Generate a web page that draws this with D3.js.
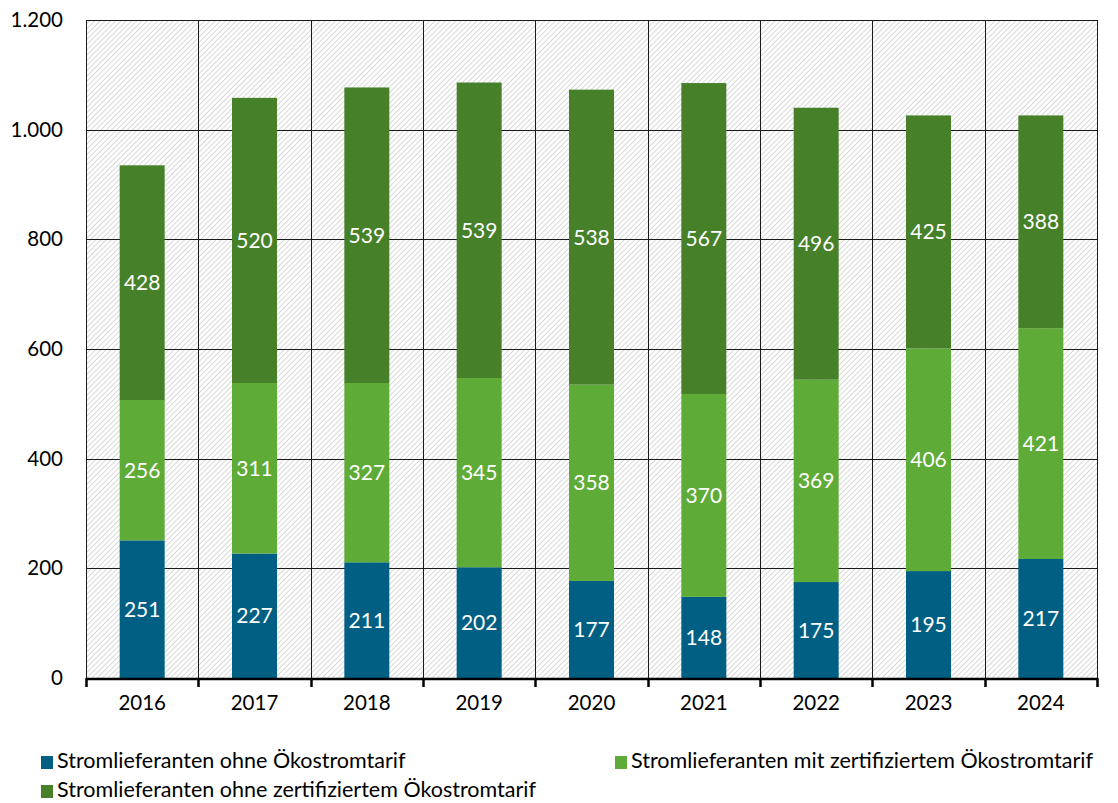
<!DOCTYPE html>
<html>
<head>
<meta charset="utf-8">
<script src="https://cdn.jsdelivr.net/npm/d3@7"></script>
<style>
  html, body { margin: 0; padding: 0; background: #fff; }
  svg text { font-family: Lato, "Open Sans", sans-serif; }
</style>
</head>
<body>
<svg id="chart" width="1118" height="803"></svg>
<script>
// Anzahl der Stromlieferanten nach Tarifart, 2016–2024
const years = ["2016", "2017", "2018", "2019", "2020", "2021", "2022", "2023", "2024"];
const ohneOeko = [251, 227, 211, 202, 177, 148, 175, 195, 217];
const mitZertOeko = [256, 311, 327, 345, 358, 370, 369, 406, 421];
const ohneZertOeko = [428, 520, 539, 539, 538, 567, 496, 425, 388];
const seriesNames = [
  "Stromlieferanten ohne Ökostromtarif",
  "Stromlieferanten mit zertifiziertem Ökostromtarif",
  "Stromlieferanten ohne zertifiziertem Ökostromtarif"
];
const yTicks = [0, 200, 400, 600, 800, 1000, 1200];

const colors = ["#005f83", "#5fab37", "#46812a"];
const keys = ["a", "b", "c"];

const rows = years.map((y, i) => ({ year: y, a: ohneOeko[i], b: mitZertOeko[i], c: ohneZertOeko[i] }));
const stacked = d3.stack().keys(keys)(rows);

const svg = d3.select("#chart");
const m = { left: 86, right: 1097, top: 20, bottom: 678 };

const x = d3.scaleBand().domain(years).range([m.left, m.right]).paddingInner(0).paddingOuter(0);
const y = d3.scaleLinear().domain([0, 1200]).range([m.bottom, m.top]);
const barW = 45;

// Schraffierter Hintergrund der Zeichenfläche
const defs = svg.append("defs");
const pat = defs.append("pattern")
  .attr("id", "hatch").attr("patternUnits", "userSpaceOnUse")
  .attr("width", 3.7).attr("height", 3.7)
  .attr("patternTransform", "rotate(45)");
pat.append("rect").attr("width", 3.7).attr("height", 3.7).attr("fill", "#fff");
pat.append("line").attr("x1", 0).attr("y1", 0).attr("x2", 0).attr("y2", 3.7)
  .attr("stroke", "#c4c4c4").attr("stroke-width", 1.3);

svg.append("rect")
  .attr("x", m.left).attr("y", m.top)
  .attr("width", m.right - m.left).attr("height", m.bottom - m.top)
  .attr("fill", "url(#hatch)");

// Horizontale Gitterlinien
svg.append("g").selectAll("line").data(yTicks.slice(1)).join("line")
  .attr("x1", m.left).attr("x2", m.right)
  .attr("y1", d => Math.round(y(d)) + 0.5).attr("y2", d => Math.round(y(d)) + 0.5)
  .attr("stroke", "#1a1a1a").attr("stroke-width", 1);

// Vertikale Trennlinien zwischen den Jahren
const bounds = years.map(d => x(d)).concat([m.right]);
svg.append("g").selectAll("line").data(bounds).join("line")
  .attr("x1", d => Math.round(d) + 0.5).attr("x2", d => Math.round(d) + 0.5)
  .attr("y1", m.top).attr("y2", m.bottom)
  .attr("stroke", "#1a1a1a").attr("stroke-width", 1);

// Gestapelte Balken
const layer = svg.append("g").selectAll("g").data(stacked).join("g")
  .attr("fill", (d, i) => colors[i]);
layer.selectAll("rect").data(d => d).join("rect")
  .attr("x", d => x(d.data.year) + x.bandwidth() / 2 - barW / 2)
  .attr("y", d => y(d[1]))
  .attr("width", barW)
  .attr("height", d => y(d[0]) - y(d[1]));

// Wertebeschriftungen in den Segmenten
layer.selectAll("text").data(d => d.map(v => ({ v, key: d.key }))).join("text")
  .attr("x", d => x(d.v.data.year) + x.bandwidth() / 2)
  .attr("y", d => (y(d.v[0]) + y(d.v[1])) / 2)
  .attr("dy", "0.36em")
  .attr("text-anchor", "middle")
  .attr("fill", "#fff")
  .attr("font-size", 21)
  .text(d => d.v.data[d.key]);

// Y-Achse (Beschriftungen)
const yAxis = d3.axisLeft(y).tickValues(yTicks).tickSize(0).tickPadding(0)
  .tickFormat(d => d3.format(",")(d).replace(/,/g, "."));
const gy = svg.append("g").attr("transform", `translate(${m.left - 23},0)`).call(yAxis);
gy.select(".domain").remove();
gy.selectAll("text").attr("font-size", 20.5).attr("fill", "#000")
  .style("font-family", "Lato, 'Open Sans', sans-serif");

// X-Achse mit Trennstrichen
const gx = svg.append("g").attr("transform", `translate(0,${m.bottom})`);
gx.append("line").attr("x1", m.left).attr("x2", m.right + 1)
  .attr("y1", 1).attr("y2", 1).attr("stroke", "#000").attr("stroke-width", 2.5);
gx.selectAll(".tk").data(bounds).join("line").attr("class", "tk")
  .attr("x1", d => Math.round(d) + 0.5).attr("x2", d => Math.round(d) + 0.5)
  .attr("y1", 0).attr("y2", 9).attr("stroke", "#000").attr("stroke-width", 2.5);
const xAxis = d3.axisBottom(x).tickSize(0).tickPadding(0);
const gxl = svg.append("g").attr("transform", `translate(0,${m.bottom + 17})`).call(xAxis);
gxl.select(".domain").remove();
gxl.selectAll("text").attr("font-size", 20.5).attr("fill", "#000")
  .attr("dy", "0.75em")
  .style("font-family", "Lato, 'Open Sans', sans-serif");

// Legende
const legendPos = [[41, 756], [615, 756], [41, 785]];
const lg = svg.append("g").selectAll("g").data(seriesNames).join("g")
  .attr("transform", (d, i) => `translate(${legendPos[i][0]},${legendPos[i][1]})`);
lg.append("rect").attr("width", 12).attr("height", 13).attr("fill", (d, i) => colors[i]);
lg.append("text").attr("x", 16).attr("y", 12)
  .attr("font-size", 21.5).attr("fill", "#000").text(d => d);
</script>
</body>
</html>
